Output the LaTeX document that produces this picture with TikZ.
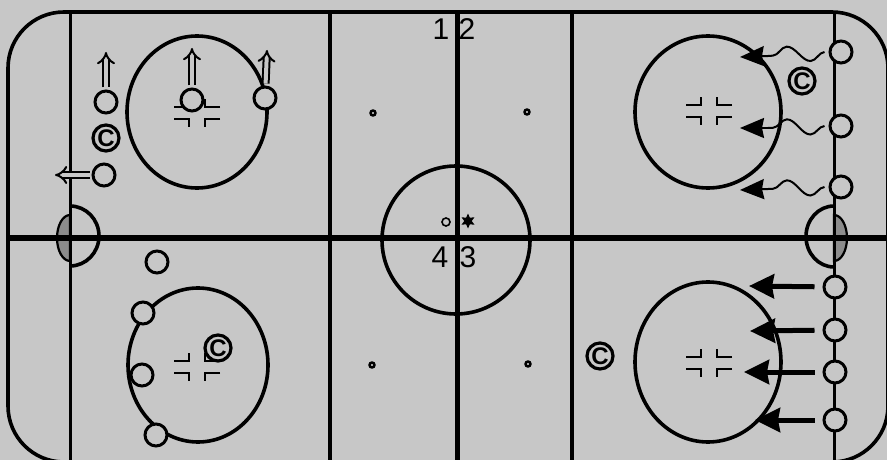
\documentclass[tikz,border=0pt]{standalone}
\usepackage{fontspec}
\setmainfont{Liberation Sans}
\usetikzlibrary{arrows.meta,decorations.pathmorphing,shapes.geometric}
\definecolor{bg}{gray}{0.78}
\definecolor{netgray}{gray}{0.55}
\begin{document}
\begin{tikzpicture}[x=1pt,y=-1pt,
  boardline/.style={line width=3.6pt},
  goalline/.style={line width=3pt},
  blueline/.style={line width=3.6pt},
  redline/.style={line width=5pt},
  ring/.style={line width=3.6pt},
  hash/.style={line width=1.9pt},
  player/.style={circle,draw,line width=3pt,fill=bg,minimum size=22pt,inner sep=0pt},
  coach/.style={circle,draw,line width=3.2pt,fill=bg,minimum size=26pt,inner sep=0pt,font=\fontsize{24}{24}\selectfont\bfseries},
  num/.style={inner sep=0pt,font=\fontsize{30}{30}\selectfont},
  skate/.style={double=bg,double distance=4pt,line width=2pt,-{Implies[length=10pt,width=20pt]},shorten <=2pt},
  wave/.style={line width=2pt,decorate,decoration={snake,segment length=46pt,amplitude=8pt}},
  headtip/.style={line width=2pt,-{Stealth[length=24pt,width=20pt,inset=2pt]}},
  pass/.style={line width=5pt,-{Stealth[length=25pt,width=24pt,inset=2pt]},shorten <=8pt},
  dotmark/.style={circle,draw,line width=2.4pt,minimum size=5pt,inner sep=0pt},
  hashpic/.pic={
    \draw[hash] (-23,-6) -- (-8,-6) -- (-8,-14);
    \draw[hash] (23,-6) -- (8,-6) -- (8,-14);
    \draw[hash] (-23,6) -- (-8,6) -- (-8,14);
    \draw[hash] (23,6) -- (8,6) -- (8,14);
  }
]
\useasboundingbox (0,0) rectangle (887,460);
\fill[bg] (0,0) rectangle (887,460);
\begin{scope}
\clip (0,0) rectangle (887,460);
% boards
\draw[boardline,rounded corners=56pt] (8,12) rectangle (888,462);
% creases and nets
\draw[ring] (70,206) arc[start angle=-90,end angle=90,x radius=29,y radius=30];
\draw[ring] (834,206) arc[start angle=-90,end angle=-270,x radius=28,y radius=30.5];
\filldraw[fill=netgray,line width=2.2pt] (70,215) arc[start angle=-90,end angle=-270,x radius=13,y radius=23] -- cycle;
\filldraw[fill=netgray,line width=2.2pt] (834,215) arc[start angle=-90,end angle=90,x radius=13,y radius=23] -- cycle;
% faceoff circles
\draw[ring] (197,112) ellipse[x radius=70,y radius=76];
\draw[ring] (708,112) ellipse[x radius=73,y radius=76];
\draw[ring] (198,365) ellipse[x radius=70,y radius=77];
\draw[ring] (708,362) ellipse[x radius=73,y radius=80];
\draw[ring] (456,240) circle[radius=74];
% lines
\draw[goalline] (70,12) -- (70,462);
\draw[goalline] (834,12) -- (834,462);
\draw[blueline] (330,12) -- (330,462);
\draw[blueline] (572,12) -- (572,462);
\draw[redline] (457,12) -- (457,462);
\draw[line width=5.5pt] (8,238) -- (887,238);
% hash marks
\pic at (197,113) {hashpic};
\pic at (709,111) {hashpic};
\pic at (197,367) {hashpic};
\pic at (709,363) {hashpic};
% neutral zone dots
\node[dotmark] (d1) at (373,113) {};
\node[dotmark] (d2) at (527,112) {};
\node[dotmark] (d3) at (372,365) {};
\node[dotmark] (d4) at (528,364) {};
% numbers
\node[num] (n1) at (441,29) {1};
\node[num] (n2) at (467,29) {2};
\node[num] (n4) at (440,257) {4};
\node[num] (n3) at (468,257) {3};
% puck
\node[star,star points=6,star point ratio=2,fill,minimum size=15pt,inner sep=0pt] (puck) at (468,221) {};
\node[circle,draw,line width=1.6pt,minimum size=8pt,inner sep=0pt] (ref) at (446,222) {};
% top-left
\node[player] (p1) at (106,102) {};
\node[player] (p2) at (192,100) {};
\node[player] (p3) at (265,98) {};
\node[player] (p4) at (104,175) {};
\node[coach] (c1) at (106,138) {C};
\coordinate (a1) at (106,52);
\coordinate (a2) at (192,48);
\coordinate (a3) at (267,50);
\coordinate (a4) at (55,175);
\draw[skate] (p1) -- (a1);
\draw[skate] (p2) -- (a2);
\draw[skate] (p3) -- (a3);
\draw[skate] (p4) -- (a4);
% top-right
\node[player] (q1) at (841,52) {};
\node[player] (q2) at (841,126) {};
\node[player] (q3) at (841,187) {};
\node[coach] (c2) at (802,81) {C};
\coordinate (w1) at (768,56);
\coordinate (w2) at (768,128);
\coordinate (w3) at (768,189);
\coordinate (t1) at (740,57);
\coordinate (t2) at (740,128);
\coordinate (t3) at (740,190);
\draw[wave] ([xshift=-4pt]q1.west) -- (w1);
\draw[wave] ([xshift=-4pt]q2.west) -- (w2);
\draw[wave] ([xshift=-4pt]q3.west) -- (w3);
\draw[headtip] (w1) -- (t1);
\draw[headtip] (w2) -- (t2);
\draw[headtip] (w3) -- (t3);
% bottom-left
\node[player] (b1) at (157,262) {};
\node[player] (b2) at (143,313) {};
\node[player] (b3) at (142,375) {};
\node[player] (b4) at (156,435) {};
\node[coach] (c3) at (218,348) {C};
% bottom-right
\node[player] (r1) at (835,287) {};
\node[player] (r2) at (835,330) {};
\node[player] (r3) at (835,372) {};
\node[player] (r4) at (835,420) {};
\node[coach] (c4) at (600,356) {C};
\coordinate (s1) at (749,286);
\coordinate (s2) at (750,331);
\coordinate (s3) at (744,372);
\coordinate (s4) at (755,420);
\draw[pass] (r1) -- (s1);
\draw[pass] (r2) -- (s2);
\draw[pass] (r3) -- (s3);
\draw[pass] (r4) -- (s4);
\end{scope}
\end{tikzpicture}
\end{document}
